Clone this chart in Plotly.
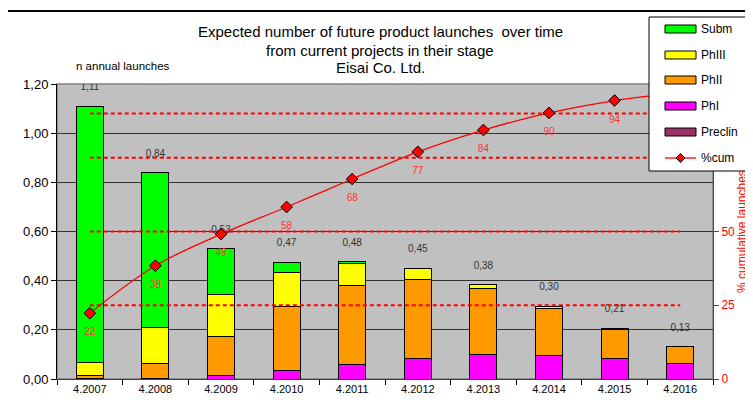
import plotly.graph_objects as go

# ---- data ----
years = ["4.2007", "4.2008", "4.2009", "4.2010", "4.2011",
         "4.2012", "4.2013", "4.2014", "4.2015", "4.2016"]
preclin = [0, 0, 0, 0, 0, 0, 0, 0, 0, 0]
ph1 = [0.002, 0.003, 0.013, 0.034, 0.061, 0.083, 0.098, 0.094, 0.083, 0.065]
ph2 = [0.011, 0.062, 0.158, 0.259, 0.321, 0.322, 0.269, 0.192, 0.120, 0.066]
ph3 = [0.055, 0.144, 0.174, 0.142, 0.089, 0.045, 0.017, 0.009, 0.003, 0.0]
subm = [1.042, 0.631, 0.185, 0.040, 0.006, 0.0, 0.0, 0.0, 0.0, 0.0]
total_labels = [1.11, 0.84, 0.53, 0.47, 0.48, 0.45, 0.38, 0.30, 0.21, 0.13]
cum_pct = [22.3, 38.4, 49.1, 58.3, 67.8, 77.0, 84.4, 90.2, 94.4, 97.0]
ref_levels = [25, 50, 75, 90]
title_lines = ["Expected number of future product launches  over time",
               "from current projects in their stage",
               "Eisai Co. Ltd."]

totals = [a + b + c + d + e for a, b, c, d, e in zip(preclin, ph1, ph2, ph3, subm)]

FONT = "Liberation Sans, Arial, sans-serif"
OFF = 8                      # default page body margin
W, H = 753 - OFF, 408 - OFF
L, R, T, B = 57, 713, 84, 379   # plot area in screen pixels


def px(x):
    return (x - L) / (R - L)


def py(y):
    return (B - y) / (B - T)


fig = go.Figure()

series = [
    ("Preclin", preclin, "#993366"),
    ("PhI", ph1, "#FF00FF"),
    ("PhII", ph2, "#FF9900"),
    ("PhIII", ph3, "#FFFF00"),
    ("Subm", subm, "#00FF00"),
]
for name, vals, col in series:
    fig.add_trace(go.Bar(
        x=years, y=vals, name=name, marker=dict(color=col, line=dict(color="#000000", width=1)),
        showlegend=False, hoverinfo="skip"))

# total labels above bars
fig.add_trace(go.Scatter(
    x=years, y=totals, mode="markers+text",
    marker=dict(size=20, opacity=0),
    text=[f"{v:.2f}".replace(".", ",") for v in total_labels],
    textposition="top center", textfont=dict(family=FONT, size=10, color="#333333"),
    showlegend=False, hoverinfo="skip"))

# reference dashed levels
for lv in ref_levels:
    fig.add_trace(go.Scatter(
        x=years, y=[lv] * len(years), yaxis="y2", mode="lines",
        line=dict(color="#FF0000", width=2, dash="4px,3px"),
        showlegend=False, hoverinfo="skip"))

# cumulative line
fig.add_trace(go.Scatter(
    x=years, y=cum_pct, yaxis="y2", mode="lines+markers", name="%cum",
    line=dict(color="#FF0000", width=1.3, shape="spline"),
    marker=dict(symbol="diamond", size=9, color="#FF0000", line=dict(color="#000000", width=1)),
    showlegend=False, hoverinfo="skip"))

fig.add_trace(go.Scatter(
    x=years, y=cum_pct, yaxis="y2", mode="markers+text",
    marker=dict(size=22, opacity=0),
    text=[str(round(v)) for v in cum_pct],
    textposition="bottom center", textfont=dict(family=FONT, size=10, color="#FF3333"),
    showlegend=False, hoverinfo="skip"))

annotations = [
    dict(text=t, xref="paper", yref="paper", x=px(380), y=py(yc), xanchor="center", yanchor="middle",
         showarrow=False, font=dict(family=FONT, size=15, color="#000000"))
    for t, yc in zip(title_lines, [32, 50, 68])
]
annotations.append(dict(text="n annual launches", xref="paper", yref="paper", x=px(123), y=py(66),
                        xanchor="center", yanchor="middle", showarrow=False,
                        font=dict(family=FONT, size=11.5, color="#000000")))

shapes = [
    dict(type="rect", xref="paper", yref="paper", x0=0, x1=1, y0=0, y1=1,
         line=dict(color="#808080", width=1.5), layer="below"),
    dict(type="rect", xref="paper", yref="paper", x0=px(7), x1=px(749), y0=py(11), y1=py(412),
         line=dict(color="#000000", width=2)),
    # legend box
    dict(type="rect", xref="paper", yref="paper", x0=px(649), x1=px(749), y0=py(171), y1=py(17),
         fillcolor="#FFFFFF", line=dict(color="#000000", width=1), layer="above"),
]

# legend entries (top to bottom)
legend_items = [(n, c) for n, _, c in reversed(series)] + [("%cum", None)]
item_y = [29, 55, 80, 106, 132, 158]
for (name, col), yc in zip(legend_items, item_y):
    if col is not None:
        shapes.append(dict(type="rect", xref="paper", yref="paper",
                           x0=px(665), x1=px(696), y0=py(yc + 4), y1=py(yc - 4),
                           fillcolor=col, line=dict(color="#000000", width=1), layer="above"))
    else:
        shapes.append(dict(type="line", xref="paper", yref="paper",
                           x0=px(665), x1=px(696), y0=py(yc), y1=py(yc),
                           line=dict(color="#FF0000", width=1.3), layer="above"))
        d = 4.5
        path = (f"M {px(680.5)} {py(yc - d)} L {px(680.5 + d)} {py(yc)} "
                f"L {px(680.5)} {py(yc + d)} L {px(680.5 - d)} {py(yc)} Z")
        shapes.append(dict(type="path", xref="paper", yref="paper", path=path,
                           fillcolor="#FF0000", line=dict(color="#000000", width=1), layer="above"))
    annotations.append(dict(text=name, xref="paper", yref="paper", x=px(699), y=py(yc),
                            xanchor="left", yanchor="middle", showarrow=False,
                            font=dict(family=FONT, size=12, color="#000000")))

fig.update_layout(
    width=W, height=H,
    margin=dict(l=L - OFF, r=W - (R - OFF), t=T - OFF, b=H - (B - OFF), pad=0),
    paper_bgcolor="#FFFFFF", plot_bgcolor="#C0C0C0",
    barmode="stack", bargap=0.59,
    separators=", ",
    font=dict(family=FONT, size=12, color="#000000"),
    showlegend=False,
    xaxis=dict(
        type="category", range=[-0.5, len(years) - 0.5], autorange=False,
        showgrid=False, showline=True, linecolor="#404040", linewidth=1,
        ticks="outside", ticklen=5, tickcolor="#000000", tickson="boundaries",
        tickfont=dict(family=FONT, size=11, color="#000000"), fixedrange=True),
    yaxis=dict(
        range=[0, 1.2], dtick=0.2, tickformat=".2f", automargin=False,
        showgrid=True, gridcolor="#333333", gridwidth=1,
        showline=True, linecolor="#000000", linewidth=1,
        ticks="outside", ticklen=5, tickcolor="#000000",
        tickfont=dict(family=FONT, size=13, color="#000000"), zeroline=False),
    yaxis2=dict(
        range=[0, 100], overlaying="y", side="right", automargin=False,
        tickmode="array", tickvals=[0, 25, 50, 75, 100], ticktext=["0", "25", "50", "", ""],
        showgrid=False, zeroline=False,
        showline=True, linecolor="#FF0000", linewidth=1,
        ticks="outside", ticklen=5, tickcolor="#FF0000",
        tickfont=dict(family=FONT, size=12, color="#FF0000"),
        title=dict(text="% cumulative launches", font=dict(family=FONT, size=12, color="#FF0000"), standoff=0)),
    shapes=shapes,
    annotations=annotations,
)

fig.write_html("out.html")
